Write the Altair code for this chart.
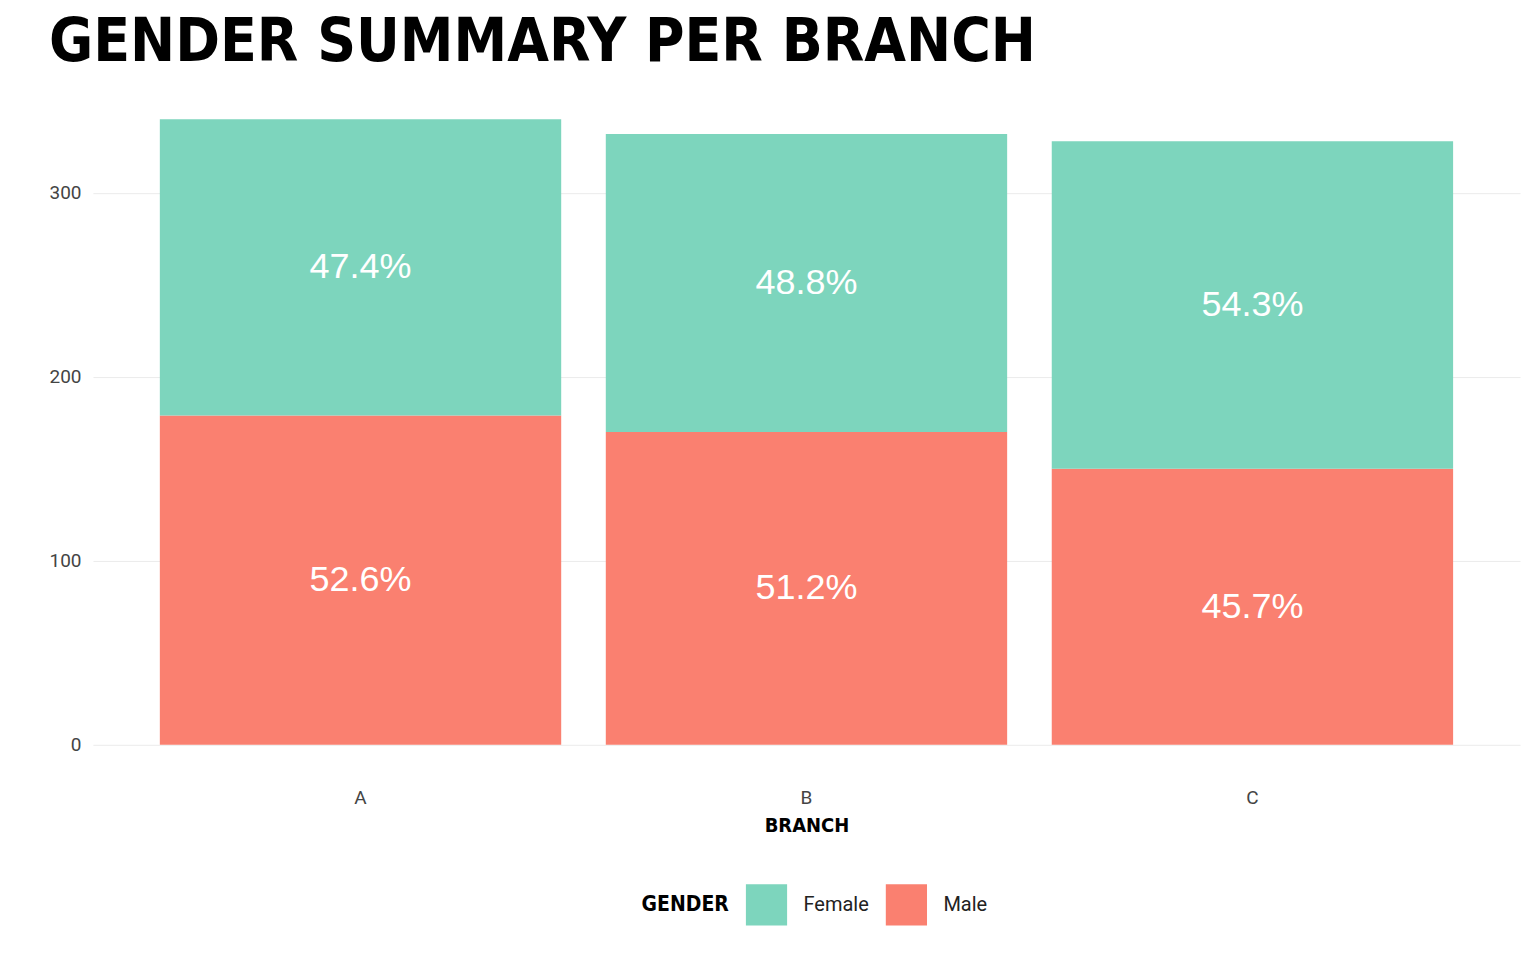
import altair as alt
import pandas as pd

branches = ["A", "A", "B", "B", "C", "C"]
genders = ["Male", "Female", "Male", "Female", "Male", "Female"]
counts = [179, 161, 170, 162, 150, 178]
pct_labels = ["52.6%", "47.4%", "51.2%", "48.8%", "45.7%", "54.3%"]

df = pd.DataFrame({"Branch": branches, "Gender": genders, "Count": counts, "Pct": pct_labels})
df["rank"] = df["Gender"].map({"Male": 0, "Female": 1})

cond = "DejaVu Sans Condensed"

color = alt.Color("Gender:N",
                  scale=alt.Scale(domain=["Female", "Male"], range=["#7dd5bd", "#fa8070"]),
                  legend=alt.Legend(title="GENDER", orient="none", legendX=549, legendY=765,
                                    direction="horizontal",
                                    symbolType="square", symbolSize=1700, symbolStrokeWidth=0,
                                    symbolOpacity=1, labelFontSize=20, labelFont="Roboto",
                                    labelColor="#222", labelOffset=16, titleFont=cond,
                                    titleFontWeight="bold", titleFontSize=21, titleOrient="left",
                                    titleBaseline="middle", titlePadding=16, columnPadding=16))

base = alt.Chart(df).transform_stack(
    stack="Count", groupby=["Branch"], as_=["y0", "y1"],
    sort=[alt.SortField("rank", order="ascending")]
).transform_calculate(mid="(datum.y0 + datum.y1) / 2")

bars = base.mark_bar(opacity=1).encode(
    x=alt.X("Branch:N", title="BRANCH", scale=alt.Scale(paddingInner=0.1, paddingOuter=0.15),
            axis=alt.Axis(labelAngle=0, labelFontSize=19, labelFont="Roboto", labelColor="#444",
                          labelPadding=44, ticks=False, domain=False,
                          titleFont=cond, titleFontWeight="bold",
                          titleFontSize=20, titlePadding=8)),
    y=alt.Y("y0:Q", title=None, scale=alt.Scale(domain=[0, 340], nice=False),
            axis=alt.Axis(values=[0, 100, 200, 300], labelFontSize=19, labelFont="Roboto",
                          labelColor="#444", ticks=False, domain=False, gridColor="#ebebeb",
                          labelPadding=12)),
    y2="y1:Q",
    color=color,
)

text = base.mark_text(color="white", fontSize=36, font="Liberation Sans").encode(
    x="Branch:N",
    y="mid:Q",
    text="Pct:N",
)

chart = (bars + text).properties(
    width=1428, height=626,
    title=alt.Title("GENDER SUMMARY PER BRANCH", font=cond, fontWeight="bold",
                    fontSize=60, anchor="start", offset=45, color="#000"),
    padding={"left": 40, "top": 5, "right": 8, "bottom": 5},
).configure_view(stroke=None)

chart.save("out.html", embed_options={"renderer": "svg", "actions": False})
